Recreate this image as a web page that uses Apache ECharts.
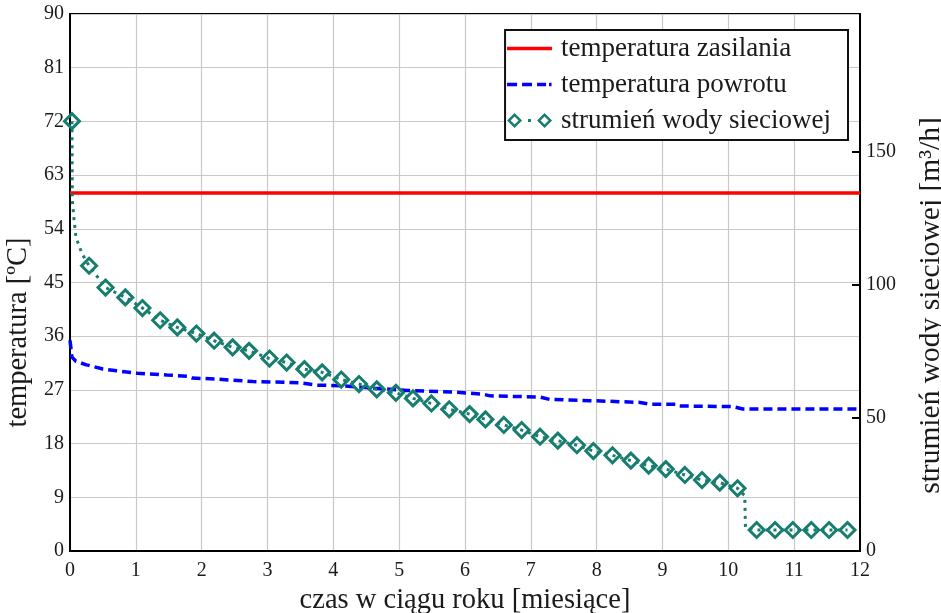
<!DOCTYPE html>
<html>
<head>
<meta charset="utf-8">
<script src="https://cdn.jsdelivr.net/npm/echarts@6/dist/echarts.min.js"></script>
<style>
    html, body {margin: 0; padding: 0; background: #fff;}
    #chart {width: 941px; height: 613px;}
</style>
</head>
<body>
<div id="chart"></div>
<script>
// temperatura zasilania (stala)
var aSupplyMonths = [0, 12];
var aSupplyTemp = [60, 60];

// temperatura powrotu
var aReturnMonths = [0, 0.03, 0.09, 0.25, 0.5, 0.71, 1.02, 1.47, 1.78, 1.85, 2.23, 2.78, 3.49, 3.75, 4.1, 4.6, 5.12, 5.88, 6.27, 6.38, 7.14, 7.29, 7.9, 8.66, 8.81, 9.22, 9.26, 10.07, 10.22, 12];
var aReturnTemp = [35.3, 32.5, 31.8, 31.2, 30.5, 30.2, 29.8, 29.5, 29.3, 29.0, 28.8, 28.4, 28.2, 27.8, 27.7, 27.3, 26.9, 26.6, 26.3, 26.0, 25.8, 25.4, 25.2, 24.9, 24.6, 24.6, 24.3, 24.2, 23.8, 23.8];

// strumien wody sieciowej - punkty z rombami [m3/h]
var aFlowMonths = [0.03, 0.29, 0.54, 0.84, 1.10, 1.37, 1.63, 1.92, 2.19, 2.47, 2.72, 3.03, 3.29, 3.56, 3.83, 4.12, 4.39, 4.66, 4.95, 5.21, 5.49, 5.76, 6.07, 6.31, 6.59, 6.86, 7.14, 7.41, 7.70, 7.95, 8.24, 8.52, 8.79, 9.05, 9.34, 9.60, 9.87, 10.14, 10.43, 10.71, 10.98, 11.26, 11.53, 11.81];
var aFlowValues = [161.7, 107.3, 99.1, 95.4, 91.4, 86.8, 84.1, 81.8, 79.1, 76.6, 75.3, 72.4, 70.9, 68.4, 67.2, 64.5, 62.8, 60.8, 59.5, 57.4, 55.5, 53.3, 51.5, 49.5, 47.4, 45.5, 43.0, 41.5, 39.8, 37.6, 36.0, 34.0, 32.1, 30.8, 28.6, 26.7, 25.7, 23.6, 7.9, 7.9, 7.9, 7.9, 7.9, 7.9];

// dodatkowe punkty kropkowanej linii (poczatek i skok po 10 miesiacu)
var aCurveMonths = [0.035, 0.06, 0.09, 0.14, 0.18, 10.25, 10.26];
var aCurveValues = [132, 125, 118, 114.7, 112, 20.8, 8.8];

// osie
var aTempTicks = [0, 90, 9];
var aFlowTicks = [0, 202, 50];
var aFlowLabels = [0, 50, 100, 150];
var aMonthTicks = [0, 12, 1];

var sFont = 'Liberation Serif';
var sTeal = '#177d6f';
var sFlowName = 'strumień wody sieciowej';

function Pairs(aX, aY) {
    var aData = [];
    for (var i = 0; i < aX.length; i++) {
        aData.push([aX[i], aY[i]]);
    }
    return aData
}

function CurveData() {
    var aData = Pairs(aFlowMonths, aFlowValues).concat(Pairs(aCurveMonths, aCurveValues));
    aData.sort(function (a, b) { return a[0] - b[0]; });
    return aData
}

function GetOption() {
    var jLabel = {fontFamily: sFont, fontSize: 20, color: '#1a1a1a'};
    var jName = {fontFamily: sFont, fontSize: 28.5, color: '#1a1a1a'};
    var jGridLine = {show: true, lineStyle: {color: '#c9c9c9', width: 1.2}};

    var jOption = {
        animation: false,
        backgroundColor: '#fff',
        grid: {left: 70, right: 81, top: 14, bottom: 62, show: true, borderColor: '#000', borderWidth: 2,
            outerBoundsMode: 'none', containLabel: false},
        legend: {
            orient: 'vertical',
            right: 93,
            top: 30,
            padding: [5, 17, 6, 2],
            itemWidth: 45,
            itemHeight: 15,
            itemGap: 9,
            backgroundColor: '#fff',
            borderColor: '#111',
            borderWidth: 2,
            textStyle: {fontFamily: sFont, fontSize: 27, color: '#1a1a1a', lineHeight: 26, padding: [0, 0, 0, 4]},
            data: [
                {name: 'temperatura zasilania', icon: 'path://M0 0M45 15M0 5.8L45 5.8L45 9.2L0 9.2Z',
                    itemStyle: {color: '#ff0000', borderWidth: 0}},
                {name: 'temperatura powrotu', icon: 'path://M0 0M45 15M0 5.8L10 5.8L10 9.2L0 9.2ZM15 5.8L25 5.8L25 9.2L15 9.2ZM30 5.8L39 5.8L39 9.2L30 9.2ZM42 5.8L44.5 5.8L44.5 9.2L42 9.2Z',
                    itemStyle: {color: '#0000ff', borderWidth: 0}},
                {name: sFlowName, icon: 'path://M7.5 0L15 7.5L7.5 15L0 7.5ZM7.5 3.5L3.5 7.5L7.5 11.5L11.5 7.5ZM21 6L24 6L24 9L21 9ZM37.5 0L45 7.5L37.5 15L30 7.5ZM37.5 3.5L33.5 7.5L37.5 11.5L41.5 7.5Z',
                    itemStyle: {color: sTeal, borderWidth: 0}}
            ]
        },
        xAxis: {
            type: 'value',
            min: aMonthTicks[0], max: aMonthTicks[1], interval: aMonthTicks[2],
            name: 'czas w ciągu roku [miesiące]',
            nameLocation: 'middle',
            nameGap: 33,
            nameTextStyle: jName,
            axisLine: {lineStyle: {color: '#000', width: 2}},
            axisTick: {show: false},
            axisLabel: Object.assign({margin: 10}, jLabel),
            splitLine: jGridLine
        },
        yAxis: [
            {//lewa os - temperatura
                type: 'value',
                min: aTempTicks[0], max: aTempTicks[1], interval: aTempTicks[2],
                name: 'temperatura [ºC]',
                nameLocation: 'middle',
                nameRotate: 90,
                nameGap: 32,
                nameTextStyle: Object.assign({padding: [0, 100, 0, 0]}, jName),
                axisLine: {show: true, lineStyle: {color: '#000', width: 2}},
                axisTick: {show: false},
                axisLabel: Object.assign({margin: 6}, jLabel),
                splitLine: jGridLine
            },
            {//prawa os - strumien, bez etykiety na gorze
                type: 'value',
                position: 'right',
                min: aFlowTicks[0], max: aFlowTicks[1], interval: aFlowTicks[2],
                name: 'strumień wody sieciowej [m³/h]',
                nameLocation: 'middle',
                nameRotate: 90,
                nameGap: 56,
                nameTextStyle: Object.assign({padding: [0, 46, 0, 0]}, jName, {fontSize: 29.5}),
                axisLine: {show: true, lineStyle: {color: '#000', width: 2}},
                axisTick: {show: true, inside: true, length: 8, customValues: aFlowLabels,
                    lineStyle: {color: '#000', width: 2}},
                axisLabel: Object.assign({margin: 6, customValues: aFlowLabels, formatter: function (v) {
                    return aFlowLabels.indexOf(v) >= 0 ? String(v) : '';
                }}, jLabel),
                splitLine: {show: false}
            }
        ],
        series: [
            {
                name: 'temperatura zasilania',
                type: 'line',
                yAxisIndex: 0,
                symbol: 'none',
                data: Pairs(aSupplyMonths, aSupplyTemp),
                lineStyle: {color: '#ff0000', width: 3.5},
                itemStyle: {color: '#ff0000'},
                z: 3
            },
            {
                name: 'temperatura powrotu',
                type: 'line',
                yAxisIndex: 0,
                symbol: 'none',
                data: Pairs(aReturnMonths, aReturnTemp),
                lineStyle: {color: '#0000ff', width: 3.5, type: [9, 5]},
                itemStyle: {color: '#0000ff'},
                z: 3
            },
            {//kropkowana linia
                name: sFlowName,
                type: 'line',
                yAxisIndex: 1,
                symbol: 'none',
                data: CurveData(),
                lineStyle: {color: sTeal, width: 3, type: [3, 5]},
                itemStyle: {color: sTeal},
                z: 4
            },
            {//romby
                name: sFlowName,
                type: 'line',
                yAxisIndex: 1,
                symbol: 'diamond',
                symbolSize: 15,
                showAllSymbol: true,
                data: Pairs(aFlowMonths, aFlowValues),
                lineStyle: {width: 0, opacity: 0},
                itemStyle: {color: 'rgba(255,255,255,0)', borderColor: sTeal, borderWidth: 3},
                z: 5
            }
        ]
    };
    return jOption
}

function SetOption(jOption, sTagID) {
    var oChart = echarts.init(document.getElementById(sTagID));
    oChart.setOption(jOption);
    return oChart
}

SetOption(GetOption(), 'chart');
</script>
</body>
</html>
